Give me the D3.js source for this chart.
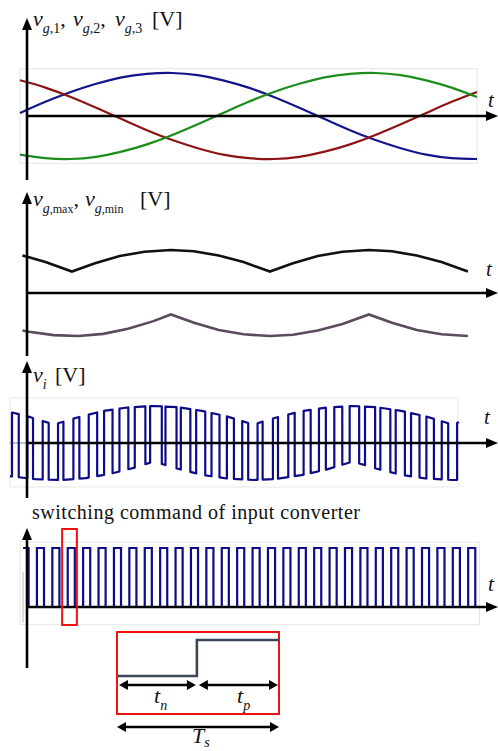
<!doctype html>
<html>
<head>
<meta charset="utf-8">
<script src="https://cdnjs.cloudflare.com/ajax/libs/d3/7.8.5/d3.min.js"></script>
<style>
  body { margin: 0; background: #fff; }
  svg { display: block; }
  svg text { font-family: "Liberation Serif", "Times New Roman", Times, serif; }
</style>
</head>
<body>
<svg width="498" height="751"></svg>
<script>
// ---- data (phase angle in degrees, voltages in per unit) ----
var angle = [0, 15, 30, 45, 60, 75, 90, 105, 120, 135, 150, 165, 180, 195, 210, 225, 240, 255, 270];
var vg1 = [0.07, 0.33, 0.56, 0.75, 0.90, 0.98, 1.00, 0.95, 0.83, 0.66, 0.44, 0.19, -0.07, -0.33, -0.56, -0.75, -0.90, -0.98, -1.00];
var vg2 = [0.83, 0.66, 0.44, 0.19, -0.07, -0.33, -0.56, -0.75, -0.90, -0.98, -1.00, -0.95, -0.83, -0.66, -0.44, -0.19, 0.07, 0.33, 0.56];
var vg3 = [-0.90, -0.98, -1.00, -0.95, -0.83, -0.66, -0.44, -0.19, 0.07, 0.33, 0.56, 0.75, 0.90, 0.98, 1.00, 0.95, 0.83, 0.66, 0.44];

var envMaxAngle = [-4, 0, 10, 26, 40, 55, 70, 86, 100, 115, 130, 146, 160, 175, 190, 206, 220, 235, 250, 266, 272];
var envMax = [0.87, 0.83, 0.72, 0.50, 0.69, 0.86, 0.96, 1.00, 0.97, 0.87, 0.72, 0.50, 0.69, 0.86, 0.96, 1.00, 0.97, 0.87, 0.72, 0.50, 0.59];
var envMinAngle = [-4, 0, 15, 30, 45, 60, 75, 86, 100, 115, 130, 146, 160, 175, 190, 206, 220, 235, 250, 266, 272];
var envMin = [-0.87, -0.90, -0.98, -1.00, -0.95, -0.83, -0.66, -0.50, -0.69, -0.86, -0.96, -1.00, -0.97, -0.87, -0.72, -0.50, -0.69, -0.86, -0.96, -1.00, -0.99];
var envEnd = 266;

// input converter output: one duty value per switching period
var pwmFirst = 0.6, pwmPeriod = 9.25;
var pwmDuty = [0.44, 0.37, 0.39, 0.35, 0.39, 0.55, 0.55, 0.58, 0.69, 0.76,
               0.72, 0.62, 0.59, 0.52, 0.46, 0.39, 0.33, 0.33, 0.42, 0.46,
               0.45, 0.52, 0.62, 0.66, 0.65, 0.60, 0.55, 0.49, 0.42, 0.50];

// switching command
var cmdStart = 1.8, cmdFirst = 0.9, cmdPeriod = 9.1, cmdDuty = 0.46, cmdCount = 30, cmdMarked = 3;
var insetTn = 0.49;

var svg = d3.select("svg");

// ---- helpers ----
function arrowHead(g, x, y, dir, len, half) {
  var p;
  if (dir === "up") p = [[x, y], [x - half, y + len], [x + half, y + len]];
  if (dir === "right") p = [[x, y], [x - len, y - half], [x - len, y + half]];
  if (dir === "left") p = [[x, y], [x + len, y - half], [x + len, y + half]];
  g.append("path").attr("d", "M" + p.join("L") + "Z").attr("fill", "#000");
}

function axes(yTop, yBot, yZero) {
  var g = svg.append("g");
  g.append("line").attr("x1", 27).attr("x2", 27).attr("y1", yBot).attr("y2", yTop + 8)
    .attr("stroke", "#000").attr("stroke-width", 2.6);
  arrowHead(g, 27, yTop, "up", 12, 5);
  g.append("line").attr("x1", 27).attr("x2", 490).attr("y1", yZero).attr("y2", yZero)
    .attr("stroke", "#000").attr("stroke-width", 2.6);
  arrowHead(g, 498, yZero, "right", 12, 5);
  return g;
}

function richText(x, y, size, parts) {
  var text = svg.append("text").attr("x", x).attr("y", y).attr("font-size", size).attr("fill", "#111");
  var shift = 0;
  parts.forEach(function(p) {
    var ts = text.append("tspan").text(p.t);
    if (p.x != null) ts.attr("x", p.x);
    var target = p.sub ? (p.shift || Math.round(size * 0.3)) : 0;
    if (target !== shift) { ts.attr("dy", target - shift); shift = target; }
    if (p.sub) ts.attr("font-size", p.size || Math.round(size * 0.62));
    if (p.it) ts.attr("font-style", "italic");
  });
  return text;
}

function tLabel(x, y) {
  svg.append("text").attr("x", x).attr("y", y).attr("font-size", 21)
    .attr("font-style", "italic").attr("fill", "#111").text("t");
}

function frame(x0, x1, y0, y1) {
  svg.append("rect").attr("x", x0).attr("y", y0).attr("width", x1 - x0).attr("height", y1 - y0)
    .attr("fill", "none").attr("stroke", "#e6e6e6").attr("stroke-width", 1);
}

// points along an envelope between a and b, keeping its corners
function follow(scale, knots, a, b) {
  var pts = [[a, scale(a)]];
  knots.forEach(function(k) { if (k > a && k < b) pts.push([k, scale(k)]); });
  pts.push([b, scale(b)]);
  return pts;
}

var maxS = d3.scaleLinear().domain(envMaxAngle).range(envMax);
var minS = d3.scaleLinear().domain(envMinAngle).range(envMin);

// ---- panel 1: grid voltages ----
var x1 = d3.scaleLinear().domain([0, 270]).range([20, 477]);
var y1 = d3.scaleLinear().domain([-1, 1]).range([159, 73]);
frame(x1(0), x1(270), y1(1.1), y1(-1.1));
var line1 = d3.line().x(function(d) { return x1(d[0]); }).y(function(d) { return y1(d[1]); }).curve(d3.curveNatural);
[[vg1, "#14148c"], [vg2, "#8c1414"], [vg3, "#1c8c1c"]].forEach(function(s) {
  svg.append("path").datum(d3.zip(angle, s[0])).attr("d", line1)
    .attr("fill", "none").attr("stroke", s[1]).attr("stroke-width", 2.2);
});
axes(18, 180, y1(0));
richText(33, 26, 22, [
  {t: "v", it: true}, {t: "g", it: true, sub: true}, {t: ",1", sub: true}, {t: ","},
  {t: "v", it: true, x: 73}, {t: "g", it: true, sub: true}, {t: ",2", sub: true}, {t: ","},
  {t: "v", it: true, x: 115}, {t: "g", it: true, sub: true}, {t: ",3", sub: true},
  {t: "[V]", x: 152}
]);
tLabel(488, 107);

// ---- panel 2: max / min envelopes ----
var x2 = d3.scaleLinear().domain([0, 270]).range([29, 474.5]);
var y2 = d3.scaleLinear().domain([-1, 1]).range([336, 250]);
var line2 = d3.line().x(function(d) { return x2(d[0]); }).y(function(d) { return y2(d[1]); });
svg.append("path").datum(d3.zip(envMaxAngle, envMax).filter(function(d) { return d[0] <= envEnd; }))
  .attr("d", line2).attr("fill", "none").attr("stroke", "#111").attr("stroke-width", 2.6);
svg.append("path").datum(d3.zip(envMinAngle, envMin).filter(function(d) { return d[0] <= envEnd; }))
  .attr("d", line2).attr("fill", "none").attr("stroke", "#5a4a5c").attr("stroke-width", 2.6);
axes(192, 356, y2(0));
richText(33, 206, 22, [
  {t: "v", it: true}, {t: "g", it: true, sub: true, size: 14}, {t: ",max", sub: true, size: 12}, {t: ","},
  {t: "v", it: true, x: 85}, {t: "g", it: true, sub: true, size: 14}, {t: ",min", sub: true, size: 12},
  {t: "[V]", x: 140}
]);
tLabel(486, 276);

// ---- panel 3: input converter output voltage ----
var x3 = d3.scaleLinear().domain([0, 270]).range([11, 459]);
var y3 = d3.scaleLinear().domain([-1, 1]).range([480, 406]);
frame(x3(-0.6), x3(269.4), y3(1.22), y3(-1.19));
svg.append("line").attr("x1", x3(-0.6)).attr("x2", 27).attr("y1", y3(0)).attr("y2", y3(0))
  .attr("stroke", "#888").attr("stroke-width", 1);
var pwm = [];
var prev = -0.6;
pwmDuty.forEach(function(d, k) {
  var r = pwmFirst + k * pwmPeriod;
  var f = Math.min(r + d * pwmPeriod, 270);
  pwm = pwm.concat(follow(minS, envMinAngle, prev, r));
  pwm = pwm.concat(follow(maxS, envMaxAngle, r, f));
  if (f < 270) pwm.push([f, minS(f)]);
  prev = f;
});
var line3 = d3.line().x(function(d) { return x3(d[0]); }).y(function(d) { return y3(d[1]); });
svg.append("path").datum(pwm).attr("d", line3).attr("fill", "none")
  .attr("stroke", "#0c0c8a").attr("stroke-width", 2.2).attr("stroke-linejoin", "round");
axes(361, 498, y3(0));
richText(33, 382, 22, [{t: "v", it: true}, {t: "i", it: true, sub: true, size: 14}, {t: "[V]", x: 55}]);
tLabel(484, 424);

// ---- panel 4: switching command ----
var x4 = d3.scaleLinear().domain([0, 270]).range([20, 477]);
var y4 = d3.scaleLinear().domain([0, 1]).range([607, 548]);
frame(x4(0), x4(271.5), y4(1.1), y4(-0.3));
svg.append("line").attr("x1", 23).attr("x2", 23).attr("y1", y4(0.6)).attr("y2", y4(-0.27))
  .attr("stroke", "#bbb").attr("stroke-width", 1);
var cmd = [];
for (var k = 0; k < cmdCount; k++) {
  var r = cmdFirst + k * cmdPeriod, f = r + cmdDuty * cmdPeriod;
  if (f < cmdStart) continue;
  if (r < cmdStart) cmd.push([cmdStart, 1]);
  else cmd.push([r, 0], [r, 1]);
  cmd.push([f, 1], [f, 0]);
}
cmd.push([270, 0]);
var line4 = d3.line().x(function(d) { return x4(d[0]); }).y(function(d) { return y4(d[1]); });
svg.append("path").datum(cmd).attr("d", line4).attr("fill", "none")
  .attr("stroke", "#0c0c8a").attr("stroke-width", 2.2);
axes(528, 668, y4(0));
var rMark = cmdFirst + cmdMarked * cmdPeriod;
svg.append("rect").attr("x", x4(rMark - 3.3)).attr("y", 529)
  .attr("width", x4(rMark + 5.4) - x4(rMark - 3.3)).attr("height", 96)
  .attr("fill", "none").attr("stroke", "#ee1111").attr("stroke-width", 2);
svg.append("text").attr("x", 32).attr("y", 519).attr("font-size", 20).attr("fill", "#111")
  .attr("textLength", 328).attr("lengthAdjust", "spacing")
  .text("switching command of input converter");
tLabel(488, 591);

// ---- inset: one switching period ----
var xi = d3.scaleLinear().domain([0, 1]).range([118, 279]);
var yi = d3.scaleLinear().domain([0, 1]).range([676, 640]);
svg.append("rect").attr("x", 117).attr("y", 632).attr("width", 162).attr("height", 82)
  .attr("fill", "none").attr("stroke", "#ee1111").attr("stroke-width", 2);
svg.append("path").datum([[0, 0], [insetTn, 0], [insetTn, 1], [1, 1]])
  .attr("d", d3.line().x(function(d) { return xi(d[0]); }).y(function(d) { return yi(d[1]); }))
  .attr("fill", "none").attr("stroke", "#3c4658").attr("stroke-width", 2.6);

function dimArrow(a, b, y) {
  var g = svg.append("g");
  g.append("line").attr("x1", a + 6).attr("x2", b - 6).attr("y1", y).attr("y2", y)
    .attr("stroke", "#000").attr("stroke-width", 2.4);
  arrowHead(g, a, y, "left", 9, 5);
  arrowHead(g, b, y, "right", 9, 5);
}
dimArrow(xi(0) + 1, xi(insetTn) - 1, 685);
dimArrow(xi(insetTn) + 2, xi(1) - 1, 685);
dimArrow(xi(0) - 1, xi(1), 727);
richText(154, 703, 22, [{t: "t", it: true}, {t: "n", it: true, sub: true, size: 14}]);
richText(237, 703, 22, [{t: "t", it: true}, {t: "p", it: true, sub: true, size: 14}]);
richText(192, 743, 22, [{t: "T", it: true}, {t: "s", it: true, sub: true, size: 14, shift: 4}]);
</script>
</body>
</html>
